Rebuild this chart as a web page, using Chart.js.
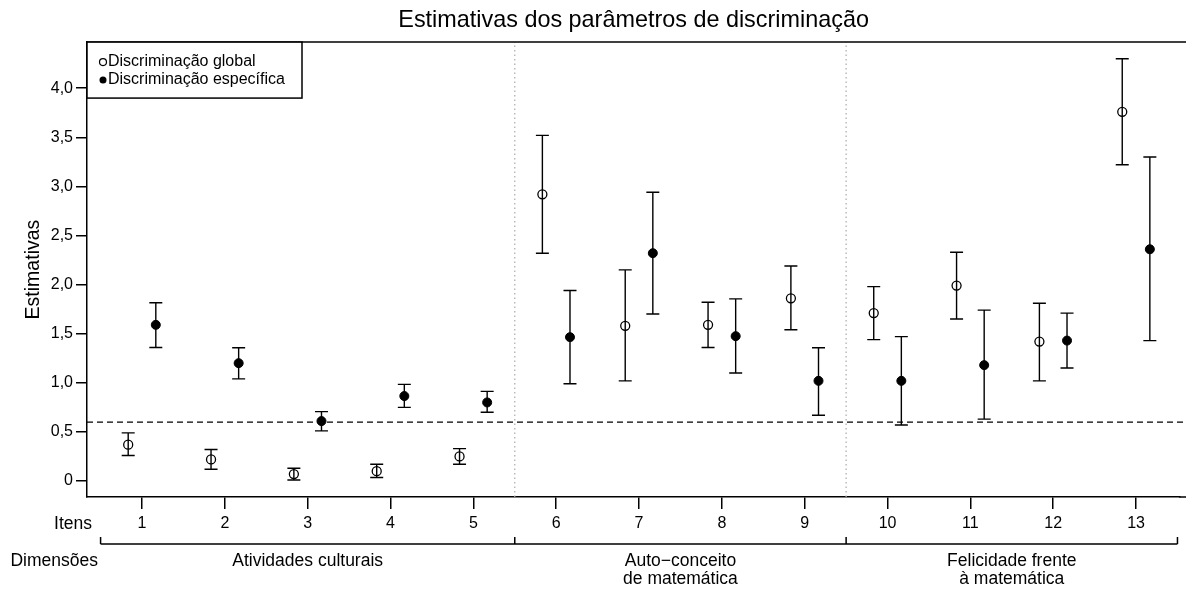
<!DOCTYPE html>
<html>
<head>
<meta charset="utf-8">
<script src="https://cdn.jsdelivr.net/npm/chart.js@4.4.0/dist/chart.umd.min.js"></script>
<style>
  body { margin: 0; background: #fff; }
  #wrap { position: relative; width: 1186px; height: 589px; }
</style>
</head>
<body>
<div id="wrap"><canvas id="discrim_chart"></canvas></div>
<script>
var itens = [1, 2, 3, 4, 5, 6, 7, 8, 9, 10, 11, 12, 13];
var dimensoes = [["Atividades culturais"], ["Auto\u2212conceito", "de matemática"], ["Felicidade frente", "à matemática"]];
var dimensao_inicio = [1, 6, 10];
var dimensao_fim = [5, 9, 13];

var global_est = [0.37, 0.22, 0.07, 0.10, 0.25, 2.92, 1.58, 1.59, 1.86, 1.71, 1.99, 1.42, 3.76];
var global_inf = [0.26, 0.12, 0.01, 0.035, 0.17, 2.32, 1.02, 1.36, 1.54, 1.44, 1.65, 1.02, 3.22];
var global_sup = [0.49, 0.32, 0.13, 0.17, 0.33, 3.52, 2.15, 1.82, 2.19, 1.98, 2.33, 1.81, 4.30];

var espec_est = [1.59, 1.20, 0.61, 0.865, 0.80, 1.465, 2.32, 1.475, 1.02, 1.02, 1.18, 1.43, 2.36];
var espec_inf = [1.36, 1.04, 0.51, 0.75, 0.70, 0.99, 1.70, 1.10, 0.67, 0.57, 0.63, 1.15, 1.43];
var espec_sup = [1.815, 1.357, 0.706, 0.984, 0.913, 1.94, 2.94, 1.855, 1.357, 1.47, 1.74, 1.71, 3.30];

var y_ticks = [0, 0.5, 1.0, 1.5, 2.0, 2.5, 3.0, 3.5, 4.0];
var ponto_corte = 0.6;

var desloc = 1 / 6;
var x_min = 0.336, x_max = 13.533;
var y_min = -0.163, y_max = 4.47;
var fonte = "'Liberation Sans', Arial, Helvetica, sans-serif";

function pontos(est, d) {
  var out = [];
  for (var i = 0; i < itens.length; i++) {
    out.push({ x: itens[i] + d, y: est[i] });
  }
  return out;
}

// error bars, box lines, legend and the bottom brackets
var extras = {
  id: "extras",
  afterDatasetsDraw: function (chart) {
    var ctx = chart.ctx;
    var xs = chart.scales.x, ys = chart.scales.y;
    var area = chart.chartArea;
    ctx.save();
    ctx.strokeStyle = "#000";
    ctx.lineWidth = 1.4;
    var series = [[global_inf, global_sup, -desloc], [espec_inf, espec_sup, desloc]];
    series.forEach(function (s) {
      for (var i = 0; i < itens.length; i++) {
        var px = xs.getPixelForValue(itens[i] + s[2]);
        var y1 = ys.getPixelForValue(s[0][i]);
        var y2 = ys.getPixelForValue(s[1][i]);
        ctx.beginPath();
        ctx.moveTo(px, y1); ctx.lineTo(px, y2);
        ctx.moveTo(px - 6.5, y1); ctx.lineTo(px + 6.5, y1);
        ctx.moveTo(px - 6.5, y2); ctx.lineTo(px + 6.5, y2);
        ctx.stroke();
      }
    });
    // box: top line and bottom line run to the right edge
    ctx.lineWidth = 1.5;
    ctx.beginPath();
    ctx.moveTo(area.left, area.top);
    ctx.lineTo(chart.width, area.top);
    ctx.moveTo(area.right - 1, area.bottom);
    ctx.lineTo(chart.width, area.bottom);
    ctx.stroke();

    // legend
    ctx.fillStyle = "#fff";
    ctx.fillRect(area.left, area.top, 215, 56);
    ctx.strokeRect(area.left, area.top, 215, 56);
    ctx.font = "16px " + fonte;
    ctx.textBaseline = "middle";
    ctx.textAlign = "left";
    ctx.fillStyle = "#000";
    ctx.beginPath();
    ctx.arc(area.left + 16, area.top + 20, 3.5, 0, Math.PI * 2);
    ctx.lineWidth = 1.2;
    ctx.stroke();
    ctx.fillText("Discriminação global", area.left + 21, area.top + 20);
    ctx.beginPath();
    ctx.arc(area.left + 16, area.top + 38, 3.5, 0, Math.PI * 2);
    ctx.fill();
    ctx.fillText("Discriminação específica", area.left + 21, area.top + 38);
    ctx.restore();
  },
  afterDraw: function (chart) {
    var ctx = chart.ctx;
    var xs = chart.scales.x;
    var yb = 544;
    ctx.save();
    ctx.strokeStyle = "#000";
    ctx.lineWidth = 1.5;
    ctx.beginPath();
    ctx.moveTo(xs.getPixelForValue(dimensao_inicio[0] - 0.5), yb);
    ctx.lineTo(xs.getPixelForValue(dimensao_fim[dimensao_fim.length - 1] + 0.5), yb);
    for (var k = 0; k < dimensao_inicio.length; k++) {
      var a = xs.getPixelForValue(dimensao_inicio[k] - 0.5);
      ctx.moveTo(a, yb); ctx.lineTo(a, yb - 7);
    }
    var b = xs.getPixelForValue(dimensao_fim[dimensao_fim.length - 1] + 0.5);
    ctx.moveTo(b, yb); ctx.lineTo(b, yb - 7);
    ctx.stroke();

    ctx.fillStyle = "#000";
    ctx.font = "17.5px " + fonte;
    ctx.textBaseline = "middle";
    ctx.textAlign = "center";
    for (var k = 0; k < dimensoes.length; k++) {
      var cx = xs.getPixelForValue((dimensao_inicio[k] + dimensao_fim[k]) / 2);
      for (var j = 0; j < dimensoes[k].length; j++) {
        ctx.fillText(dimensoes[k][j], cx, 561 + j * 18);
      }
    }
    ctx.textAlign = "right";
    ctx.fillText("Itens", 92, 524);
    ctx.fillText("Dimensões", 98, 561);
    ctx.restore();
  }
};

var ctx = document.getElementById("discrim_chart").getContext("2d");
var myChart = new Chart(ctx, {
  type: "scatter",
  data: {
    datasets: [
      {
        label: "corte",
        data: [{ x: x_min, y: ponto_corte }, { x: 13.6, y: ponto_corte }],
        showLine: true,
        clip: false,
        borderColor: "#000",
        borderWidth: 1.3,
        borderDash: [6, 4],
        pointRadius: 0,
      },
      {
        label: "div1",
        data: [{ x: dimensao_fim[0] + 0.5, y: y_min }, { x: dimensao_fim[0] + 0.5, y: y_max }],
        showLine: true,
        borderColor: "#aaa",
        borderWidth: 1.2,
        borderDash: [1.5, 3],
        pointRadius: 0,
      },
      {
        label: "div2",
        data: [{ x: dimensao_fim[1] + 0.5, y: y_min }, { x: dimensao_fim[1] + 0.5, y: y_max }],
        showLine: true,
        borderColor: "#aaa",
        borderWidth: 1.2,
        borderDash: [1.5, 3],
        pointRadius: 0,
      },
      {
        label: "Discriminação global",
        data: pontos(global_est, -desloc),
        pointRadius: 4.5,
        pointBorderWidth: 1.3,
        pointBorderColor: "#000",
        pointBackgroundColor: "rgba(0,0,0,0)",
      },
      {
        label: "Discriminação específica",
        data: pontos(espec_est, desloc),
        pointRadius: 4.5,
        pointBorderWidth: 1,
        pointBorderColor: "#000",
        pointBackgroundColor: "#000",
      },
    ],
  },
  options: {
    responsive: true,
    maintainAspectRatio: false,
    animation: false,
    layout: { padding: 0 },
    plugins: {
      legend: { display: false },
      tooltip: { enabled: false },
      title: {
        display: true,
        text: "Estimativas dos parâmetros de discriminação",
        fullSize: false,
        color: "#000",
        font: { family: fonte, size: 23.4, weight: "normal" },
        padding: { top: 7, bottom: 7 },
      },
    },
    scales: {
      x: {
        type: "linear",
        min: x_min,
        max: x_max,
        afterFit: function (scale) {
          scale.height = 92;
          scale.paddingLeft = 0;
          scale.paddingRight = 0;
        },
        afterBuildTicks: function (scale) {
          scale.ticks = itens.map(function (v) { return { value: v }; });
        },
        ticks: {
          autoSkip: false,
          maxRotation: 0,
          color: "#000",
          padding: 5,
          font: { family: fonte, size: 16 },
        },
        grid: { drawOnChartArea: false, color: "#000", lineWidth: 1.5, tickLength: 12 },
        border: { display: true, color: "#000", width: 1.5 },
      },
      y: {
        type: "linear",
        min: y_min,
        max: y_max,
        afterFit: function (scale) {
          scale.width = 87;
          scale.paddingTop = 0;
          scale.paddingBottom = 0;
        },
        afterBuildTicks: function (scale) {
          scale.ticks = y_ticks.map(function (v) { return { value: v }; });
        },
        ticks: {
          color: "#000",
          padding: 3,
          font: { family: fonte, size: 16 },
          callback: function (v) {
            return v === 0 ? "0" : v.toFixed(1).replace(".", ",");
          },
        },
        grid: { drawOnChartArea: false, color: "#000", lineWidth: 1.5, tickLength: 11 },
        border: { display: true, color: "#000", width: 1.5 },
        title: {
          display: true,
          text: "Estimativas",
          color: "#000",
          font: { family: fonte, size: 19.5 },
          padding: { top: 22, bottom: 0 },
        },
      },
    },
  },
  plugins: [extras],
});
</script>
</body>
</html>
